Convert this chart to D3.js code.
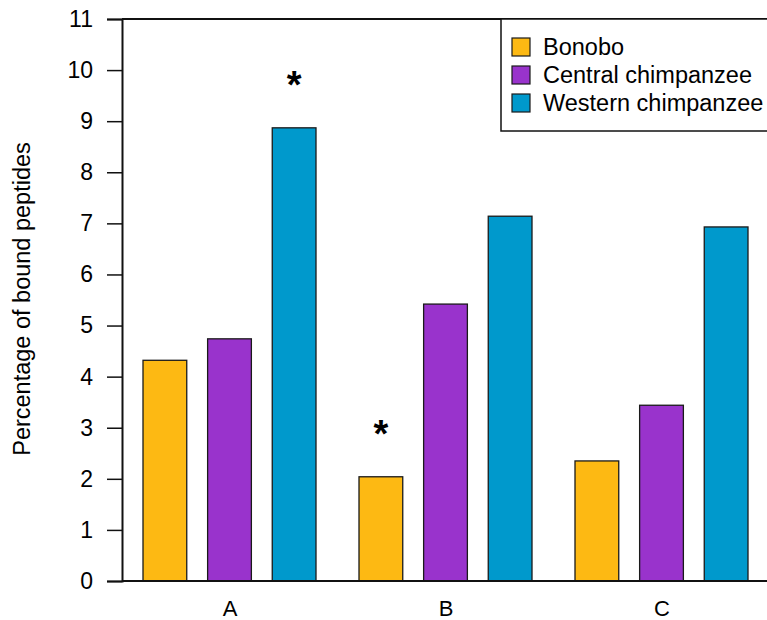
<!DOCTYPE html>
<html>
<head>
<meta charset="utf-8">
<script src="https://cdn.jsdelivr.net/npm/d3@7"></script>
<style>
  body { margin: 0; background: #fff; }
  text { font-family: "Liberation Sans", Arial, sans-serif; }
</style>
</head>
<body>
<svg id="chart" width="767" height="620"></svg>
<script>
const groups = ["A", "B", "C"];
const series = ["Bonobo", "Central chimpanzee", "Western chimpanzee"];
const bonobo = [4.32, 2.04, 2.35];
const central = [4.74, 5.42, 3.44];
const western = [8.87, 7.14, 6.93];
const yTicks = [0, 1, 2, 3, 4, 5, 6, 7, 8, 9, 10, 11];
const colors = ["#FDB913", "#9933CC", "#0099CC"];
const stars = [{ group: "A", series: "Western chimpanzee", value: 8.87 }, { group: "B", series: "Bonobo", value: 2.04 }];

const valuesBySeries = [bonobo, central, western];
const svg = d3.select("#chart");

const y = d3.scaleLinear().domain([0, 11]).range([581, 19]);
const x0 = d3.scaleBand().domain(groups).range([122, 770]).padding(0);
const x1 = d3.scaleBand().domain(series).range([21, 194]).paddingInner(0.323).paddingOuter(0);

// bars
groups.forEach((g, gi) => {
  series.forEach((s, si) => {
    const v = valuesBySeries[si][gi];
    svg.append("rect")
      .attr("x", x0(g) + x1(s))
      .attr("y", y(v))
      .attr("width", x1.bandwidth())
      .attr("height", y(0) - y(v))
      .attr("fill", colors[si])
      .attr("stroke", "#1a1a1a")
      .attr("stroke-width", 1.3);
  });
});

// y axis
const yAxis = d3.axisLeft(y).tickValues(yTicks).tickSize(15).tickPadding(14);
const ya = svg.append("g").attr("transform", "translate(122,0)").call(yAxis);
ya.attr("font-size", 23).attr("font-family", "Liberation Sans, Arial, sans-serif");
ya.select(".domain").attr("stroke", "#111").attr("stroke-width", 2);
ya.selectAll(".tick line").attr("stroke", "#111").attr("stroke-width", 1.5);
ya.selectAll(".tick text").attr("fill", "#000");

// x axis (no ticks)
const xAxis = d3.axisBottom(x0).tickSize(0).tickPadding(19);
const xa = svg.append("g").attr("transform", "translate(0,581)").call(xAxis);
xa.attr("font-size", 22).attr("font-family", "Liberation Sans, Arial, sans-serif");
xa.select(".domain").attr("stroke", "#111").attr("stroke-width", 2).attr("d", "M122,0H767");
xa.selectAll(".tick text").attr("fill", "#000");

// top border line
svg.append("line").attr("x1", 122).attr("x2", 767).attr("y1", y(11)).attr("y2", y(11))
  .attr("stroke", "#111").attr("stroke-width", 2);

// y label
svg.append("text")
  .attr("transform", "translate(30,299) rotate(-90)")
  .attr("text-anchor", "middle")
  .attr("font-size", 23.5)
  .text("Percentage of bound peptides");

// asterisks
stars.forEach(st => {
  svg.append("text")
    .attr("x", x0(st.group) + x1(st.series) + x1.bandwidth() / 2)
    .attr("y", y(st.value) - 30)
    .attr("text-anchor", "middle")
    .attr("font-size", 38)
    .attr("font-weight", "bold")
    .text("*");
});

// legend
const lg = svg.append("g");
lg.append("rect").attr("x", 501).attr("y", 19).attr("width", 280).attr("height", 112)
  .attr("fill", "#fff").attr("stroke", "#111").attr("stroke-width", 1.5);
series.forEach((s, i) => {
  const cy = 47 + i * 28;
  lg.append("rect").attr("x", 512).attr("y", cy - 9).attr("width", 18).attr("height", 18)
    .attr("fill", colors[i]).attr("stroke", "#1a1a1a").attr("stroke-width", 1.2);
  lg.append("text").attr("x", 543).attr("y", cy + 8).attr("font-size", 23.5).text(s);
});
</script>
</body>
</html>
